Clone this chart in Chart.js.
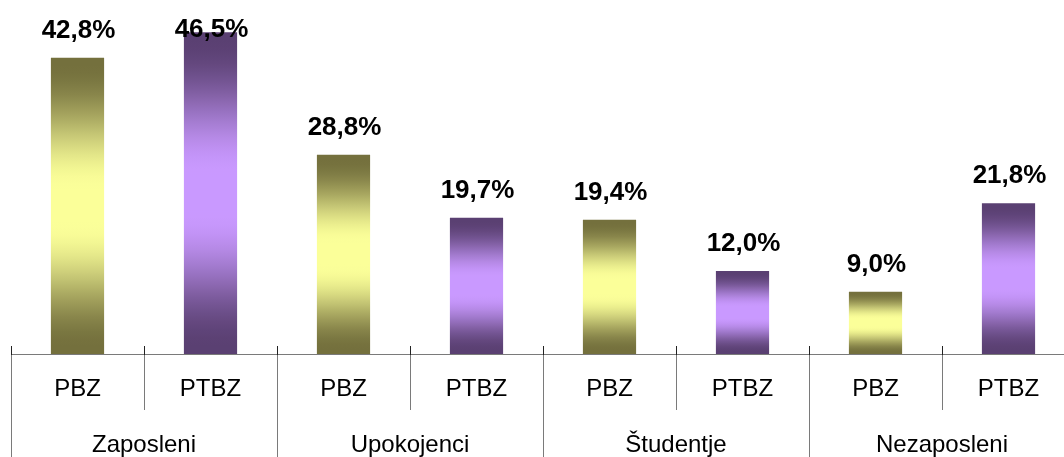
<!DOCTYPE html>
<html>
<head>
<meta charset="utf-8">
<script src="https://cdn.jsdelivr.net/npm/chart.js@4/dist/chart.umd.min.js"></script>
<style>
  html, body { margin: 0; padding: 0; overflow: hidden; background: #fff; }
  #wrap { width: 1076px; height: 457px; }
</style>
</head>
<body>
<div id="wrap"><canvas id="c" width="1076" height="457"></canvas></div>
<script>
// Groups and the two series shown in each group
const groups = ['Zaposleni', 'Upokojenci', 'Študentje', 'Nezaposleni'];
const seriesNames = ['PBZ', 'PTBZ'];
const pbzValues = [42.8, 28.8, 19.4, 9.0];
const ptbzValues = [46.5, 19.7, 12.0, 21.8];

// Flatten into one bar per (group, series)
const barLabels = [];
const barValues = [];
groups.forEach((g, i) => {
  barLabels.push(seriesNames[0]); barValues.push(pbzValues[i]);
  barLabels.push(seriesNames[1]); barValues.push(ptbzValues[i]);
});

const palettes = [
  { edge: [0x74, 0x70, 0x3d], mid: [0xfb, 0xff, 0x99] },  // PBZ
  { edge: [0x5a, 0x40, 0x72], mid: [0xc9, 0x99, 0xff] }   // PTBZ
];

function mix(a, b, t) {
  const c = a.map((v, k) => Math.round(v + (b[k] - v) * t));
  return 'rgb(' + c.join(',') + ')';
}

function smooth(x) {
  x = Math.max(0, Math.min(1, x));
  return x * x * (3 - 2 * x);
}

// Metallic tube look: dark at both ends, bright band in the middle
function barFill(context) {
  const chart = context.chart;
  const area = chart.chartArea;
  const pal = palettes[context.dataIndex % 2];
  if (!area) return mix(pal.edge, pal.mid, 1);
  const y = chart.scales.y;
  const top = y.getPixelForValue(context.raw);
  const base = y.getPixelForValue(0);
  const g = chart.ctx.createLinearGradient(0, top, 0, base);
  for (let s = 0; s <= 40; s++) {
    const p = s / 40;
    const dist = 0.5 - Math.abs(p - 0.5);
    const t = smooth((dist - 0.02) / 0.42);
    g.addColorStop(p, mix(pal.edge, pal.mid, t));
  }
  return g;
}

const FONT = "Arial, 'Liberation Sans', sans-serif";

// Value labels, category axis with two label rows and separators
const decorations = {
  id: 'decorations',
  afterDatasetsDraw(chart) {
    const ctx = chart.ctx;
    const area = chart.chartArea;
    const x = chart.scales.x;
    const n = barLabels.length;
    const step = area.width / n;
    const axisY = area.bottom;

    ctx.save();
    // value labels
    const meta = chart.getDatasetMeta(0);
    ctx.font = 'bold 26px ' + FONT;
    ctx.fillStyle = '#000';
    ctx.textAlign = 'center';
    ctx.textBaseline = 'middle';
    meta.data.forEach((bar, i) => {
      const v = barValues[i];
      const ty = Math.max(bar.y - 27, 30);
      ctx.fillText(v.toFixed(1).replace('.', ',') + '%', bar.x + 1, ty);
    });

    // axis line
    ctx.strokeStyle = '#7a7a7a';
    ctx.lineWidth = 1;
    ctx.beginPath();
    ctx.moveTo(area.left, axisY + 0.5);
    ctx.lineTo(chart.width, axisY + 0.5);
    ctx.stroke();

    // separators
    for (let i = 0; i <= n; i++) {
      const px = Math.round(area.left + i * step) + 0.5;
      ctx.strokeStyle = '#7a7a7a';
      ctx.beginPath();
      ctx.moveTo(px, axisY);
      ctx.lineTo(px, i % 2 === 0 ? chart.height : axisY + 56);
      ctx.stroke();
      ctx.strokeStyle = '#222';
      ctx.beginPath();
      ctx.moveTo(px, axisY - 8);
      ctx.lineTo(px, axisY + 1);
      ctx.stroke();
    }

    // series labels
    ctx.font = '24px ' + FONT;
    ctx.fillStyle = '#000';
    barLabels.forEach((lab, i) => {
      ctx.fillText(lab, x.getPixelForValue(i), axisY + 35);
    });
    // group labels
    groups.forEach((g, i) => {
      const cx = (x.getPixelForValue(2 * i) + x.getPixelForValue(2 * i + 1)) / 2;
      ctx.fillText(g, cx, axisY + 91);
    });
    ctx.restore();
  }
};

new Chart(document.getElementById('c'), {
  type: 'bar',
  data: {
    labels: barLabels,
    datasets: [{
      data: barValues,
      backgroundColor: barFill,
      borderWidth: 0,
      barPercentage: 0.4,
      categoryPercentage: 1.0
    }]
  },
  options: {
    responsive: false,
    animation: false,
    layout: { padding: { left: 11, right: 1, top: 8, bottom: 103 } },
    plugins: { legend: { display: false }, tooltip: { enabled: false } },
    scales: {
      x: { display: false, offset: true },
      y: { display: false, min: 0, max: 50 }
    }
  },
  plugins: [decorations]
});
</script>
</body>
</html>
